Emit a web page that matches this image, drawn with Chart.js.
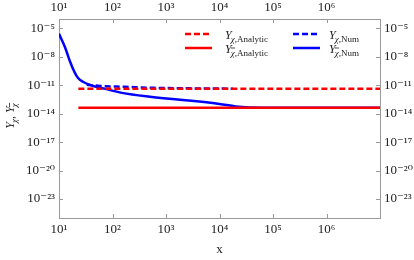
<!DOCTYPE html>
<html><head><meta charset="utf-8">
<script src="https://cdn.jsdelivr.net/npm/chart.js@4/dist/chart.umd.min.js"></script>
<style>html,body{margin:0;padding:0;background:#fff}#wrap{width:414px;height:260px}</style>
</head><body><div id="wrap"><canvas id="c" width="414" height="260"></canvas></div>
<script>
// ---- data ----
const xTicks = [10, 100, 1e3, 1e4, 1e5, 1e6];
const yTicks = [1e-23, 1e-20, 1e-17, 1e-14, 1e-11, 1e-8, 1e-5];

// Y_chi,Analytic (red dashed)
const anaX = [23, 1e7];
const anaY = [4.4e-12, 4.4e-12];
// Y_chibar,Analytic (red solid)
const anaBarX = [23, 1e7];
const anaBarY = [4.2e-14, 4.2e-14];
// Y_chi,Num (blue dashed)
const numX = [33, 60, 170, 500, 3000, 1.8e4];
const numY = [1.15e-11, 8.5e-12, 7e-12, 5.6e-12, 4.8e-12, 4.4e-12];
// Y_chibar,Num (blue solid)
const numBarX = [10, 13, 16, 19.5, 22.5, 28, 40, 70, 150, 500, 1e4, 2e4, 6e4, 1e7];
const numBarY = [2.75e-6, 1e-7, 3.5e-9, 2.5e-10, 6.3e-11, 2.4e-11, 1e-11, 4.5e-12, 1.6e-12, 6.2e-13, 1.1e-13, 6e-14, 4.2e-14, 4.2e-14];

const pts = (xs, ys) => xs.map((x, i) => ({x: x, y: ys[i]}));

const SUP = {'0':'⁰','1':'¹','2':'²','3':'³','4':'⁴','5':'⁵','6':'⁶','7':'⁷','8':'⁸','9':'⁹','-':'⁻'};
function pow10Label(v) {
  const e = String(Math.round(Math.log10(v)));
  return '10' + e.split('').map(c => SUP[c]).join('');
}

const SERIF = '"Liberation Serif", "DejaVu Serif", serif';
const tickFont = {family: SERIF, size: 13};
const TXT = '#222';
const FRAME = '#9a9a9a';

function drawSym(ctx, x, y, bar, suffix, dry) {
  ctx.font = 'italic 12px ' + SERIF;
  if (!dry) ctx.fillText('Y', x, y);
  x += ctx.measureText('Y').width - 1;
  ctx.font = 'italic 9px ' + SERIF;
  const w = ctx.measureText('χ').width;
  if (!dry) {
    ctx.fillText('χ', x, y + 3);
    if (bar) {
      ctx.beginPath(); ctx.lineWidth = 0.8;
      ctx.moveTo(x, y - 4.5); ctx.lineTo(x + w + 0.5, y - 4.5); ctx.stroke();
    }
  }
  x += w;
  if (suffix) {
    ctx.font = '9px ' + SERIF;
    if (!dry) ctx.fillText(suffix, x, y + 3);
    x += ctx.measureText(suffix).width;
  }
  return x;
}

const decor = {
  id: 'decor',
  afterDraw(chart) {
    const ctx = chart.ctx, a = chart.chartArea;
    const sx = chart.scales.x, sy = chart.scales.y;
    ctx.save();
    // inward tick marks on all four sides
    ctx.strokeStyle = FRAME; ctx.lineWidth = 1;
    ctx.beginPath();
    xTicks.forEach(v => {
      const p = Math.round(sx.getPixelForValue(v)) + 0.5;
      ctx.moveTo(p, a.bottom); ctx.lineTo(p, a.bottom - 4);
      ctx.moveTo(p, a.top); ctx.lineTo(p, a.top + 4);
    });
    yTicks.forEach(v => {
      const p = Math.round(sy.getPixelForValue(v)) + 0.5;
      ctx.moveTo(a.left, p); ctx.lineTo(a.left + 4, p);
      ctx.moveTo(a.right, p); ctx.lineTo(a.right - 4, p);
    });
    ctx.stroke();

    // legend (2 x 2)
    chart.data.datasets.forEach(d => {
      const lx = d.legendCol === 0 ? 185 : 293;
      const tx = d.legendCol === 0 ? 225 : 329;
      const ly = d.legendRow === 0 ? 34 : 48;
      ctx.save();
      ctx.strokeStyle = d.borderColor; ctx.lineWidth = 2.5;
      ctx.setLineDash(d.borderDash || []);
      ctx.beginPath(); ctx.moveTo(lx, ly); ctx.lineTo(lx + 27, ly); ctx.stroke();
      ctx.restore();
      ctx.fillStyle = TXT; ctx.strokeStyle = TXT;
      drawSym(ctx, tx, ly + 4.5, d.bar, d.suffix);
    });

    // y-axis title, rotated
    ctx.fillStyle = TXT; ctx.strokeStyle = TXT;
    let w = drawSym(ctx, 0, 0, false, '', true);
    ctx.font = '12px ' + SERIF; w += ctx.measureText(', ').width;
    w = drawSym(ctx, w, 0, true, '', true);
    ctx.translate(14, 116 + w / 2);
    ctx.rotate(-Math.PI / 2);
    let x = drawSym(ctx, 0, 0, false, '');
    ctx.font = '12px ' + SERIF; ctx.fillText(', ', x, 0); x += ctx.measureText(', ').width;
    drawSym(ctx, x, 0, true, '');
    ctx.restore();
  }
};

function axis(pos, min, max, list, size) {
  const horiz = pos === 'top' || pos === 'bottom';
  return {
    type: 'logarithmic', position: pos, min: min, max: max,
    afterBuildTicks: s => { s.ticks = list.map(v => ({value: v})); },
    afterFit: s => { if (horiz) s.height = size; else s.width = size; },
    grid: {display: false, drawTicks: false},
    border: {display: true, color: FRAME, width: 1},
    ticks: {
      callback: v => pow10Label(v), font: tickFont, color: TXT,
      padding: pos === 'top' ? 4 : 4, maxRotation: 0, autoSkip: false
    }
  };
}

const xB = axis('bottom', 10, 1e7, xTicks, 42);
xB.title = {display: true, text: 'x', font: {family: SERIF, size: 13}, color: TXT, padding: {top: 0, bottom: 3}};

new Chart(document.getElementById('c'), {
  type: 'line',
  data: {
    datasets: [
      {label: 'Y_χ,Analytic', suffix: ',Analytic', bar: false, legendCol: 0, legendRow: 0,
       data: pts(anaX, anaY), borderColor: '#ff0000', borderDash: [6, 3], borderWidth: 2.5},
      {label: 'Y_χ̄,Analytic', suffix: ',Analytic', bar: true, legendCol: 0, legendRow: 1,
       data: pts(anaBarX, anaBarY), borderColor: '#ff0000', borderWidth: 2.5},
      {label: 'Y_χ,Num', suffix: ',Num', bar: false, legendCol: 1, legendRow: 0,
       data: pts(numX, numY), borderColor: '#0000ff', borderDash: [6, 3], borderWidth: 2.5,
       cubicInterpolationMode: 'monotone'},
      {label: 'Y_χ̄,Num', suffix: ',Num', bar: true, legendCol: 1, legendRow: 1,
       data: pts(numBarX, numBarY), borderColor: '#0000ff', borderWidth: 2.5,
       cubicInterpolationMode: 'monotone'}
    ]
  },
  options: {
    responsive: false, animation: false, devicePixelRatio: 1,
    layout: {padding: 0},
    elements: {point: {radius: 0}, line: {fill: false}},
    plugins: {legend: {display: false}, tooltip: {enabled: false}},
    scales: {
      x: xB,
      x2: axis('top', 10, 1e7, xTicks, 19),
      y: axis('left', 1e-25, 1e-4, yTicks, 59),
      y2: axis('right', 1e-25, 1e-4, yTicks, 34)
    }
  },
  plugins: [decor]
});
</script></body></html>
